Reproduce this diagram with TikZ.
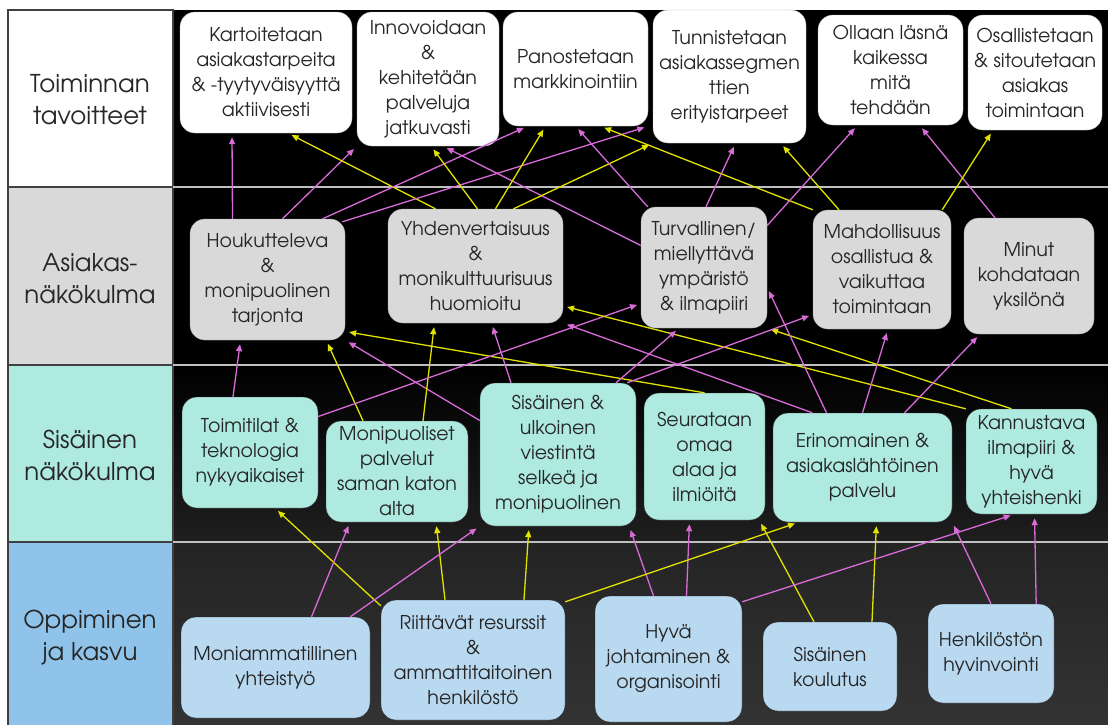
\documentclass[tikz,border=0pt]{standalone}
\usepackage{fontspec}
\setmainfont{TeX Gyre Adventor}
\usetikzlibrary{arrows.meta}
\definecolor{custgray}{HTML}{D9D9D9}
\definecolor{intteal}{HTML}{AEEADF}
\definecolor{learnblue}{HTML}{B9D9F1}
\definecolor{learnlabel}{HTML}{8FC3EA}
\definecolor{magline}{HTML}{D86BD8}
\definecolor{yelline}{HTML}{E2E200}
\definecolor{txt}{HTML}{262626}

\begin{document}
\begin{tikzpicture}[x=1pt,y=-1pt]
\tikzstyle{bandlabel}=[align=center,text=txt,font=\fontsize{24.5}{32}\selectfont]
\tikzstyle{goalbox}=[rectangle,rounded corners=15pt,draw=gray!60,fill=white,text=txt,align=center,inner sep=0pt,font=\fontsize{19}{25}\selectfont]
\tikzstyle{custbox}=[goalbox,draw=gray!70,fill=custgray]
\tikzstyle{intbox}=[goalbox,draw=black!80,fill=intteal]
\tikzstyle{learnbox}=[goalbox,draw=black!85,fill=learnblue]
\tikzstyle{sepline}=[draw=gray!50,line width=2pt]
\tikzstyle{magarrow}=[draw=magline,line width=1.3pt,-{Triangle[length=7pt,width=6pt]},shorten >=4pt]
\tikzstyle{yelarrow}=[magarrow,draw=yelline]

\useasboundingbox (0,0) rectangle (1108,724);
\fill[white] (0,0) rectangle (1108,724);
\fill[black] (173,10) rectangle (1108,365);
\shade[top color=black,bottom color=black!88] (173,365) rectangle (1108,542);
\shade[top color=black!86,bottom color=black!80] (173,542) rectangle (1108,724);
\filldraw[fill=white,draw=black!75,line width=1.2pt] (8,10) rectangle (173,187);
\filldraw[fill=custgray,draw=black!75,line width=1.2pt] (8,187) rectangle (173,365);
\filldraw[fill=intteal,draw=black!75,line width=1.2pt] (8,365) rectangle (173,542);
\filldraw[fill=learnlabel,draw=black!75,line width=1.2pt] (8,542) rectangle (173,726);
\foreach \y in {187,365,542}
  \draw[sepline] (173,\y) -- (1108,\y);

\node[bandlabel] (lab1) at (90,100) {Toiminnan\\tavoitteet};
\node[bandlabel] (lab2) at (90,279) {Asiakas-\\näkökulma};
\node[bandlabel] (lab3) at (90,455) {Sisäinen\\näkökulma};
\node[bandlabel] (lab4) at (90,638) {Oppiminen\\ja kasvu};

\node[goalbox,minimum width=172,minimum height=121] (kar) at (266,72.5) {Kartoitetaan\\asiakastarpeita\\\& -tyytyväisyyttä\\aktiivisesti};
\node[goalbox,minimum width=142,minimum height=134] (inn) at (428,79) {Innovoidaan\\\&\\kehitetään\\palveluja\\jatkuvasti};
\node[goalbox,minimum width=145,minimum height=114] (pan) at (575.5,69) {Panostetaan\\markkinointiin};
\node[goalbox,minimum width=153,minimum height=133] (tun) at (729.5,76.5) {Tunnistetaan\\asiakassegmen\\ttien\\erityistarpeet};
\node[goalbox,minimum width=145,minimum height=110] (oll) at (890.5,70) {Ollaan läsnä\\kaikessa\\mitä\\tehdään};
\node[goalbox,minimum width=134,minimum height=115] (osa) at (1035,72.5) {Osallistetaan\\\& sitoutetaan\\asiakas\\toimintaan};

\node[custbox,minimum width=155,minimum height=121] (hou) at (267.5,279.5) {Houkutteleva\\\&\\monipuolinen\\tarjonta};
\node[custbox,minimum width=175,minimum height=114] (yhd) at (475.5,266) {Yhdenvertaisuus\\\&\\monikulttuurisuus\\huomioitu};
\node[custbox,minimum width=126,minimum height=121] (tur) at (704,267.5) {Turvallinen/\\miellyttävä\\ympäristö\\\& ilmapiiri};
\node[custbox,minimum width=138,minimum height=119] (mah) at (882,269.5) {Mahdollisuus\\osallistua \&\\vaikuttaa\\toimintaan};
\node[custbox,minimum width=130,minimum height=116] (mnt) at (1029,276) {Minut\\kohdataan\\yksilönä};

\node[intbox,minimum width=136,minimum height=111] (toi) at (250,452.5) {Toimitilat \&\\teknologia\\nykyaikaiset};
\node[intbox,minimum width=142,minimum height=101] (mon) at (397,471.5) {Monipuoliset\\palvelut\\saman katon\\alta};
\node[intbox,minimum width=156,minimum height=143] (sis) at (558,454.5) {Sisäinen \&\\ulkoinen\\viestintä\\selkeä ja\\monipuolinen};
\node[intbox,minimum width=121,minimum height=127] (seu) at (704.5,456.5) {Seurataan\\omaa\\alaa ja\\ilmiöitä};
\node[intbox,minimum width=179,minimum height=109] (eri) at (862.5,467.5) {Erinomainen \&\\asiakaslähtöinen\\palvelu};
\node[intbox,minimum width=131,minimum height=105] (kan) at (1031.5,461.5) {Kannustava\\ilmapiiri \&\\hyvä\\yhteishenki};

\node[learnbox,minimum width=189,minimum height=101] (mam) at (275.5,667.5) {Moniammatillinen\\yhteistyö};
\node[learnbox,minimum width=184,minimum height=120] (rii) at (473,660) {Riittävät resurssit\\\&\\ammattitaitoinen\\henkilöstö};
\node[learnbox,minimum width=147,minimum height=126] (hyv) at (668.5,659) {Hyvä\\johtaminen \&\\organisointi};
\node[learnbox,minimum width=134,minimum height=89] (kou) at (830,666.5) {Sisäinen\\koulutus};
\node[learnbox,minimum width=126,minimum height=99] (hen) at (991,653.5) {Henkilöstön\\hyvinvointi};

\draw[magarrow] ([xshift=-35pt]hou.north) -- ([xshift=-34pt]kar.south);
\draw[magarrow] ([xshift=15pt]hou.north) -- (inn.south west);
\draw[yelarrow] ([xshift=-40pt]yhd.north) -- ([xshift=22pt]kar.south);
\draw[magarrow] ([xshift=55pt]hou.north) -- ([xshift=-48pt]pan.south);
\draw[magarrow] ([xshift=-3pt,yshift=-3pt]hou.north east) -- (pan.south east);
\draw[yelarrow] ([xshift=2pt]yhd.north) -- ([xshift=3pt]inn.south);
\draw[magarrow] ([yshift=22pt]tur.west) -- ([xshift=15pt]inn.south);
\draw[yelarrow] ([xshift=20pt]yhd.north) -- ([xshift=-30pt]pan.south);
\draw[yelarrow] ([xshift=38pt]yhd.north) -- (tun.south west);
\draw[magarrow] ([xshift=7pt]tur.north west) -- (pan.south);
\draw[yelarrow] (mah.north west) -- ([xshift=25pt]pan.south);
\draw[yelarrow] ([xshift=-43pt]mah.north) -- ([xshift=51pt]tun.south);
\draw[magarrow] ([xshift=2pt]tur.north) -- ([xshift=6pt]tun.south);
\draw[magarrow] ([yshift=42pt]tur.east) -- ([xshift=-33pt]oll.south);
\draw[magarrow] ([xshift=-34pt]mnt.north) -- ([xshift=29pt]oll.south);
\draw[yelarrow] ([xshift=-9pt]mah.north east) -- ([xshift=-42pt]osa.south);

\draw[magarrow] ([xshift=-17pt]toi.north) -- ([xshift=-27pt]hou.south);
\draw[yelarrow] ([xshift=-34pt]mon.north) -- ([xshift=-19pt]hou.south east);
\draw[magarrow] ([yshift=34pt]sis.west) -- (hou.south east);
\draw[yelarrow] (seu.north) -- ([yshift=-52pt]hou.east);
\draw[yelarrow] ([xshift=26pt]mon.north) -- ([xshift=-41pt]yhd.south);
\draw[magarrow] ([xshift=-47pt]sis.north) -- ([xshift=16pt]yhd.south);
\draw[magarrow] ([yshift=36pt]toi.east) -- ([yshift=-36pt]tur.west);
\draw[yelarrow] (kan.north west) -- ([yshift=-40pt]yhd.east);
\draw[yelarrow] ([xshift=-20pt]kan.north) -- (tur.south east);
\draw[magarrow] ([xshift=-50pt]eri.north) -- (yhd.south east);
\draw[magarrow] ([xshift=58pt]sis.north) -- ([xshift=-25pt]tur.south);
\draw[magarrow] ([xshift=-9pt]sis.north east) -- ([yshift=-45pt]mah.west);
\draw[magarrow] ([xshift=-36pt]eri.north) -- ([yshift=-20pt]tur.east);
\draw[magarrow] (eri.north) -- ([xshift=6pt]mah.south);
\draw[magarrow] ([xshift=42pt]eri.north) -- ([xshift=-49pt]mnt.south);

\draw[yelarrow] ([yshift=-6pt]rii.north west) -- ([xshift=25pt]toi.south);
\draw[magarrow] ([xshift=36pt]mam.north) -- ([xshift=-47pt]mon.south);
\draw[yelarrow] ([xshift=-28pt]rii.north) -- ([xshift=39pt]mon.south);
\draw[magarrow] ([xshift=-20pt]mam.north east) -- (sis.south west);
\draw[yelarrow] ([xshift=51pt]rii.north) -- ([xshift=-29pt]sis.south);
\draw[magarrow] ([xshift=-15pt]hyv.north) -- ([xshift=-7pt]sis.south east);
\draw[magarrow] ([xshift=18pt]hyv.north) -- ([xshift=-15pt]seu.south);
\draw[yelarrow] ([xshift=-16pt]kou.north) -- ([xshift=-6pt]seu.south east);
\draw[yelarrow] ([yshift=-2pt]rii.north east) -- ([xshift=26pt]eri.south west);
\draw[yelarrow] ([xshift=42pt]kou.north) -- ([xshift=14pt]eri.south);
\draw[magarrow] (hen.north) -- (eri.south east);
\draw[magarrow] ([yshift=-6pt]hyv.north east) -- ([xshift=-17pt]kan.south);
\draw[magarrow] ([xshift=-18pt]hen.north east) -- ([xshift=3pt]kan.south);
\end{tikzpicture}
\end{document}
